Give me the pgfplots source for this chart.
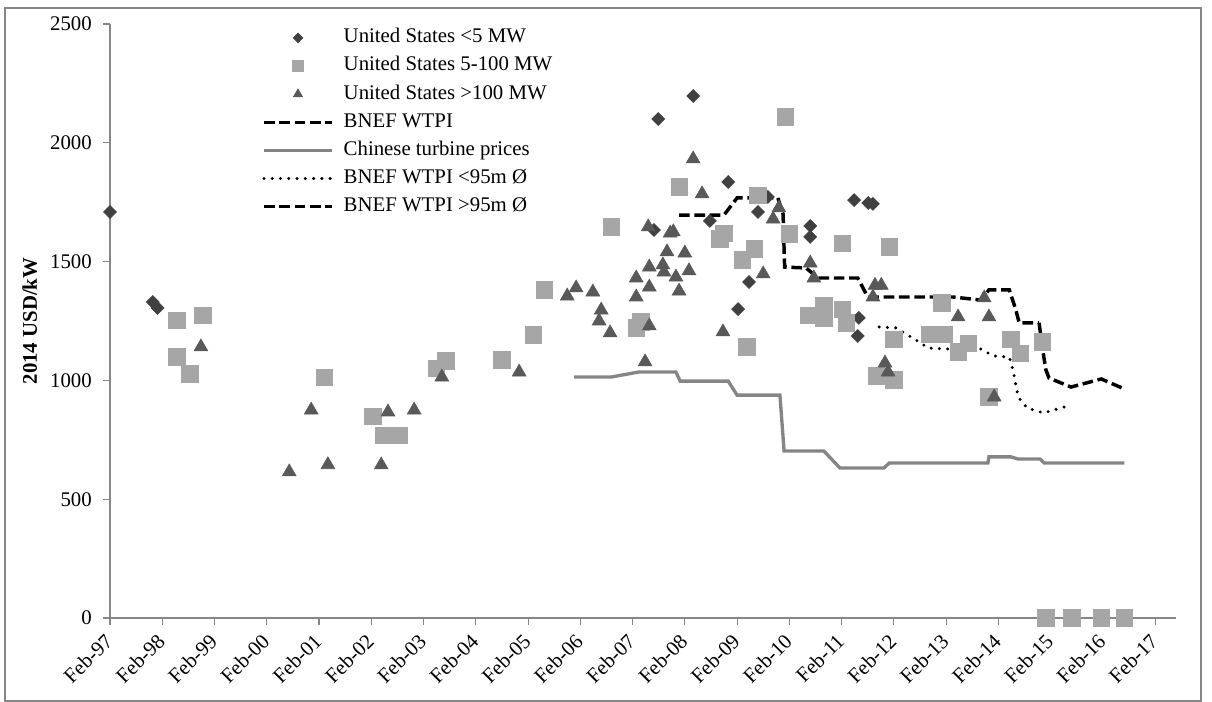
\documentclass[border=0pt]{standalone}
\usepackage{fontspec}
\setmainfont{Liberation Serif}
\usepackage{pgfplots}
\pgfplotsset{compat=1.18}

\definecolor{diam}{HTML}{404040}
\definecolor{sq}{HTML}{A6A6A6}
\definecolor{tri}{HTML}{595959}
\definecolor{cn}{HTML}{858585}
\definecolor{axgray}{HTML}{868686}

\pgfplotsset{
    markleg/.style={legend image code/.code={\path (0pt,0pt) (51pt,0pt);
        \draw[##1, mark size=#1] plot coordinates {(25.5pt,0pt)};}},
    lineleg/.style={legend image code/.code={\draw[##1] (0pt,0pt) -- (51pt,0pt);}},
}

\begin{document}
\fontsize{15.6}{18}\selectfont
\begin{tikzpicture}
% chart area border
\draw[axgray, line width=0.8pt] (3.75pt,0.75pt) rectangle (900.75pt,520.5pt);
\begin{axis}[
    at={(82.5pt,63pt)}, anchor=south west,
    scale only axis,
    width=799.5pt, height=445.5pt,
    xmin=0, xmax=20.4,
    ymin=0, ymax=2500,
    set layers,
    axis x line=bottom, axis y line=left,
    axis line style={-, draw=axgray, line width=0.8pt},
    tick align=outside,
    major tick length=5pt,
    tick style={draw=axgray, line width=0.8pt},
    xtick={0,1,...,20},
    xticklabels={Feb-97,Feb-98,Feb-99,Feb-00,Feb-01,Feb-02,Feb-03,Feb-04,Feb-05,Feb-06,Feb-07,Feb-08,Feb-09,Feb-10,Feb-11,Feb-12,Feb-13,Feb-14,Feb-15,Feb-16,Feb-17},
    xticklabel style={rotate=45, anchor=east, inner sep=1pt},
    xticklabel shift=9pt,
    ytick={0,500,...,2500},
    yticklabel style={inner sep=2pt},
    yticklabel shift=6.5pt,
    /pgf/number format/assume math mode=true,
    /pgf/number format/set thousands separator={},
    ylabel={\bfseries 2014 USD/kW},
    ylabel style={at={(axis description cs:-0.0751,0.5)}, anchor=center},
    legend cell align=left,
    legend style={at={(0.1426,1.0008)}, anchor=north west, draw=none, fill=none,
        inner sep=0pt, row sep=0pt,
        nodes={inner xsep=0pt, inner ysep=3.3pt, text height=11pt, text depth=3.5pt},
        /tikz/every odd column/.append style={column sep=7.5pt}},
]

% US <5 MW
\addplot[only marks, mark=square*, mark size=3.45pt, color=diam,
    mark options={rotate=45, fill=diam, draw=diam}, markleg=2.6pt]
coordinates {
(0,1709) (0.82,1330) (0.91,1305) (10.41,1633) (10.49,2100) (11.16,2197)
(11.48,1671) (11.83,1835) (12.02,1300) (12.23,1414) (12.40,1709) (12.59,1772)
(13.40,1650) (13.40,1604) (14.24,1759) (14.51,1747) (14.60,1743) (14.33,1263)
(14.31,1187)
};
\addlegendentry{United States <5 MW}

% US 5-100 MW
\addplot[only marks, mark=square*, mark size=6.2pt, color=sq,
    mark options={fill=sq, draw=sq}, markleg=4pt]
coordinates {
(1.28,1254) (1.78,1275) (1.28,1099) (1.53,1027) (4.10,1014) (5.03,850)
(5.24,770) (5.53,770) (6.24,1052) (6.43,1082) (7.50,1086) (8.10,1191)
(8.31,1381) (9.59,1646) (10.07,1221) (10.16,1246) (10.89,1814) (11.67,1595)
(11.75,1620) (12.10,1507) (12.19,1141) (12.33,1553) (12.40,1780) (12.92,2109)
(13.00,1616) (13.36,1275) (13.66,1317) (13.66,1263) (14.01,1300) (14.09,1242)
(14.01,1578) (14.91,1562) (14.66,1019) (15.00,1002) (15.00,1174) (15.68,1195)
(15.92,1326) (15.96,1195) (16.23,1120) (16.42,1157) (16.82,930) (17.24,1174)
(17.42,1115) (17.84,1162) (17.91,0) (18.41,0) (18.97,0) (19.41,0)
};
\addlegendentry{United States 5-100 MW}

% US >100 MW
\addplot[only marks, mark=triangle*, mark size=6pt, color=tri,
    mark options={fill=tri, draw=tri}, markleg=4pt]
coordinates {
(1.74,1141) (3.43,615) (3.85,875) (4.17,645) (5.19,644) (5.32,867)
(5.82,875) (6.35,1014) (7.83,1035) (8.75,1355) (8.92,1389) (9.24,1372)
(9.36,1250) (9.40,1296) (9.57,1200) (10.07,1431) (10.07,1351) (10.24,1078)
(10.30,1646) (10.32,1229) (10.32,1477) (10.32,1393) (10.58,1486) (10.60,1456)
(10.66,1541) (10.72,1620) (10.78,1625) (10.83,1435) (10.89,1376) (11.00,1536)
(11.08,1461) (11.16,1932) (11.33,1785) (11.73,1204) (12.50,1448) (12.69,1679)
(12.80,1726) (13.40,1494) (13.47,1431) (14.60,1351) (14.64,1400) (14.76,1400)
(14.83,1073) (14.89,1035) (16.23,1267) (16.73,1347) (16.82,1267) (16.92,930)
};
\addlegendentry{United States >100 MW}

% BNEF WTPI
\addplot[on layer=axis background, black, line width=2.6pt, dash pattern=on 8pt off 3.5pt, lineleg]
coordinates {
(10.89,1696) (11.75,1696) (12.00,1768) (12.78,1768) (12.88,1700) (12.91,1477)
(13.32,1473) (13.55,1431) (14.31,1431) (14.50,1351) (16.13,1351) (16.67,1338)
(16.82,1381) (17.21,1381) (17.33,1300) (17.40,1242) (17.78,1242)
};
\addlegendentry{BNEF WTPI}

% Chinese turbine prices
\addplot[on layer=axis background, cn, line width=2.5pt, lineleg]
coordinates {
(8.88,1014) (9.59,1014) (10.11,1035) (10.83,1035) (10.91,997) (11.83,997)
(12.00,938) (12.82,938) (12.90,703) (13.66,703) (13.97,631) (14.81,631)
(14.91,652) (16.80,652) (16.82,678) (17.24,678) (17.38,669) (17.80,669)
(17.88,652) (19.41,652)
};
\addlegendentry{Chinese turbine prices}

% BNEF WTPI <95m
\addplot[on layer=axis background, black, line width=2.5pt, line cap=round,
    dash pattern=on 0pt off 6.2pt, lineleg]
coordinates {
(14.72,1225) (15.04,1221) (15.52,1157) (15.65,1136) (16.06,1132) (16.67,1132)
(16.90,1103) (17.21,1098) (17.28,1044) (17.38,930) (17.55,884) (17.86,863)
(18.26,888)
};
\addlegendentry{BNEF WTPI <95m Ø}

% BNEF WTPI >95m
\addplot[on layer=axis background, black, line width=2.6pt, dash pattern=on 8pt off 3.5pt, lineleg]
coordinates {
(17.78,1242) (17.84,1140) (17.91,1044) (17.97,1010) (18.39,972) (18.97,1006)
(19.41,964)
};
\addlegendentry{BNEF WTPI >95m Ø}

\end{axis}
\pgfresetboundingbox
\path (0pt,0pt) rectangle (909pt,526.5pt);
\end{tikzpicture}
\end{document}
